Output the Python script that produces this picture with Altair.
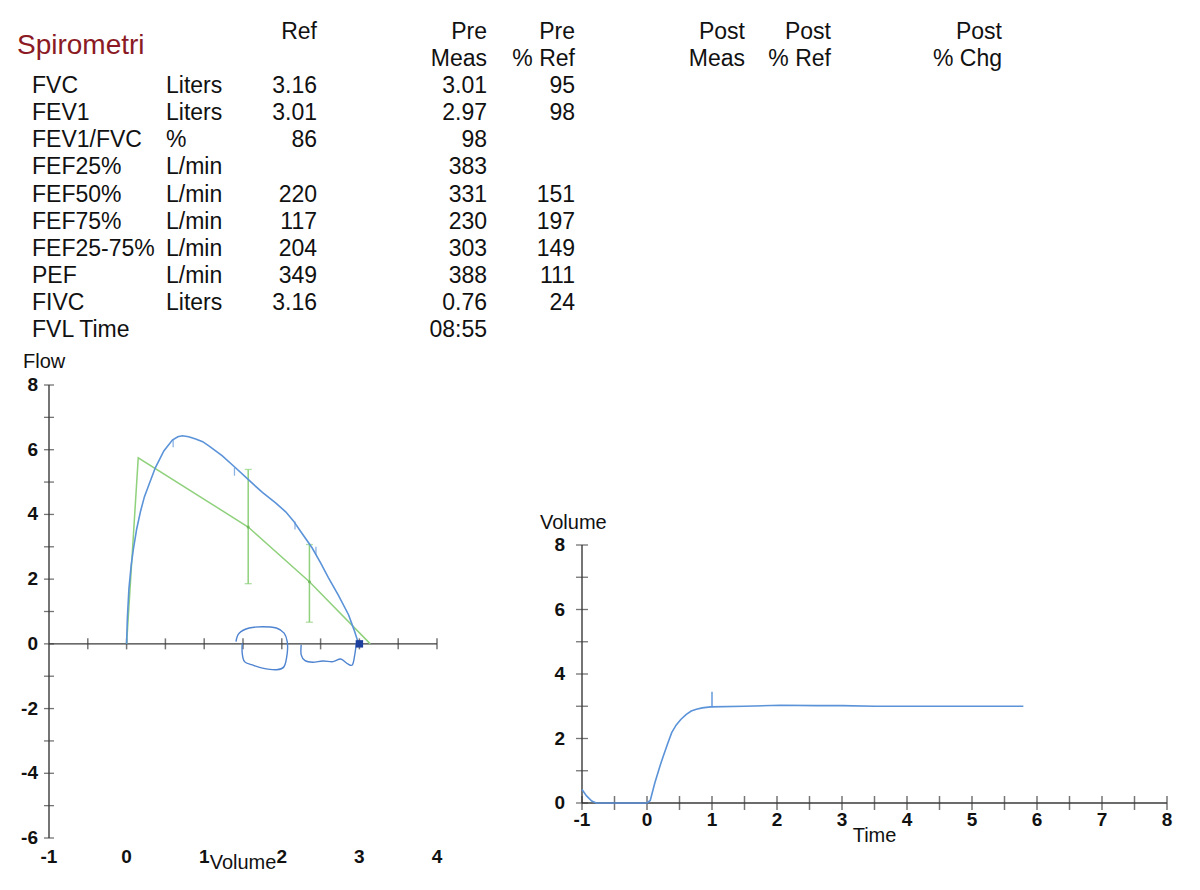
import altair as alt
import pandas as pd

FONT = "Liberation Sans"
INK = "#111111"
BLUE = "#5b93d9"
GREEN = "#8fd17c"
PEN = "#4f84d1"
AXIS = "#3a3a3a"
DARKRED = "#8b1a24"

# ---------------- table data ----------------
row_labels = ["FVC", "FEV1", "FEV1/FVC", "FEF25%", "FEF50%", "FEF75%",
              "FEF25-75%", "PEF", "FIVC", "FVL Time"]
units = ["Liters", "Liters", "%", "L/min", "L/min", "L/min", "L/min", "L/min", "Liters", ""]
ref_vals = ["3.16", "3.01", "86", "", "220", "117", "204", "349", "3.16", ""]
pre_meas = ["3.01", "2.97", "98", "383", "331", "230", "303", "388", "0.76", "08:55"]
pre_pct_ref = ["95", "98", "", "", "151", "197", "149", "111", "24", ""]
post_meas = [""] * 10
post_pct_ref = [""] * 10
post_pct_chg = [""] * 10

header_top = ["", "", "Ref", "Pre", "Pre", "Post", "Post", "Post"]
header_bottom = ["", "", "", "Meas", "% Ref", "Meas", "% Ref", "% Chg"]
col_keys = ["label", "unit", "ref", "pre_meas", "pre_pct", "post_meas", "post_pct", "post_chg"]
col_body = [row_labels, units, ref_vals, pre_meas, pre_pct_ref, post_meas, post_pct_ref, post_pct_chg]

# ---------------- flow-volume data ----------------
flow_vol = [0.00, 0.01, 0.03, 0.06, 0.09, 0.13, 0.18, 0.23, 0.29, 0.37, 0.48, 0.59, 0.66,
            0.72, 0.80, 0.89, 0.98, 1.06, 1.23, 1.40, 1.58, 1.75, 1.92, 2.05, 2.15, 2.25,
            2.39, 2.50, 2.60, 2.73, 2.86, 2.93, 2.97, 2.99]
flow_val = [0.00, 0.80, 1.70, 2.45, 2.97, 3.55, 4.10, 4.55, 4.93, 5.44, 5.96, 6.30, 6.40,
            6.43, 6.40, 6.33, 6.25, 6.12, 5.82, 5.45, 5.05, 4.68, 4.36, 4.08, 3.80, 3.45,
            2.97, 2.50, 2.05, 1.50, 0.90, 0.44, 0.15, 0.00]
mark_vol = [0.60, 1.39, 2.17, 2.44]
mark_flow = [6.20, 5.32, 3.66, 2.88]

pred_vol = [0.00, 0.15, 1.567, 2.356, 3.14]
pred_flow = [0.00, 5.75, 3.61, 1.92, 0.00]
err_vol = [1.567, 2.356]
err_lo = [1.86, 0.67]
err_hi = [5.39, 3.07]

pen1_vol = [1.41, 1.45, 1.58, 1.75, 1.93, 2.03, 2.07, 2.07, 2.03, 1.93, 1.75, 1.62, 1.52, 1.49, 1.49]
pen1_flow = [0.07, 0.33, 0.49, 0.53, 0.49, 0.33, 0.07, -0.29, -0.70, -0.80, -0.75, -0.65, -0.55, -0.29, 0.02]
pen2_vol = [2.25, 2.25, 2.30, 2.40, 2.53, 2.66, 2.76, 2.85, 2.91, 2.94, 2.96]
pen2_flow = [-0.03, -0.34, -0.52, -0.57, -0.53, -0.55, -0.47, -0.62, -0.65, -0.34, 0.02]
end_vol = [3.0]
end_flow = [0.0]

flow_x_labels = [-1, 0, 1, 2, 3, 4]
flow_y_labels = [-6, -4, -2, 0, 2, 4, 6, 8]
flow_zero_ticks = [-0.5, 0, 0.5, 1, 1.5, 2, 2.5, 3, 3.5, 4]
flow_y_ticks = [-6, -5, -4, -3, -2, -1, 0, 1, 2, 3, 4, 5, 6, 7, 8]

# ---------------- volume-time data ----------------
vt_time = [-1.0, -0.93, -0.85, -0.78, -0.5, -0.25, 0.0, 0.05, 0.12, 0.20, 0.25, 0.32, 0.38,
           0.45, 0.52, 0.60, 0.68, 0.76, 0.85, 0.98, 1.5, 2.05, 2.6, 3.0, 3.5, 4.06, 4.5,
           5.0, 5.4, 5.79]
vt_vol = [0.42, 0.22, 0.06, 0.0, 0.0, 0.0, 0.0, 0.08, 0.62, 1.15, 1.45, 1.85, 2.18,
          2.42, 2.59, 2.74, 2.85, 2.91, 2.95, 2.98, 3.0, 3.03, 3.02, 3.02, 3.0, 3.0, 3.0,
          3.0, 3.0, 3.0]
vt_mark_time = [1.0]
vt_mark_lo = [2.97]
vt_mark_hi = [3.45]

vt_x_labels = [-1, 0, 1, 2, 3, 4, 5, 6, 7, 8]
vt_y_labels = [0, 2, 4, 6, 8]
vt_x_ticks = [-1, -0.5, 0, 0.5, 1, 1.5, 2, 2.5, 3, 3.5, 4, 4.5, 5, 5.5, 6, 6.5, 7, 7.5, 8]
vt_y_ticks = [0, 1, 2, 3, 4, 5, 6, 7, 8]

# ---------------- layout ----------------
W, H = 1184, 874

fx = alt.Scale(domain=[-1, 4], range=[41, 429], nice=False, zero=False)
fy = alt.Scale(domain=[-6, 8], range=[830, 377], nice=False, zero=False)
tx = alt.Scale(domain=[-1, 8], range=[574, 1159], nice=False, zero=False)
ty = alt.Scale(domain=[0, 8], range=[795, 537], nice=False, zero=False)

TICKLBL = dict(font=FONT, fontSize=19, fontWeight="bold", color=INK)
TITLE = dict(font=FONT, fontSize=20, color=INK)

# ---------------- table chart ----------------
row_keys = ["h1", "h2"] + row_labels
records = []
for key, top, bot, body in zip(col_keys, header_top, header_bottom, col_body):
    for rk, t in zip(row_keys, [top, bot] + body):
        if t:
            records.append({"row": rk, "col": key, "txt": t})
table_df = pd.DataFrame(records)

col_style = {
    "label": (24, "left"), "unit": (158, "left"), "ref": (309, "right"),
    "pre_meas": (479, "right"), "pre_pct": (567, "right"), "post_meas": (737, "right"),
    "post_pct": (823, "right"), "post_chg": (994, "right"),
}
row_scale = alt.Scale(type="point", domain=row_keys, range=[24, 322], padding=0)
table_layers = []
for key, (px, al) in col_style.items():
    table_layers.append(
        alt.Chart(table_df).transform_filter(alt.datum.col == key)
        .mark_text(align=al, baseline="middle", font=FONT, fontSize=23, color=INK)
        .encode(x=alt.value(px), y=alt.Y("row:N", scale=row_scale, axis=None), text="txt:N")
    )
title_layer = alt.Chart(pd.DataFrame({"t": ["Spirometri"]})).mark_text(
    align="left", baseline="middle", font=FONT, fontSize=28, color=DARKRED
).encode(x=alt.value(9), y=alt.value(38), text="t:N")
table = alt.layer(*table_layers, title_layer)

# ---------------- flow-volume chart ----------------
xq = lambda f: alt.X(f, scale=fx, axis=None)
yq = lambda f: alt.Y(f, scale=fy, axis=None)

fv_df = pd.DataFrame({"vol": flow_vol, "flow": flow_val, "i": range(len(flow_vol))})
flow_main = alt.Chart(fv_df).mark_line(color=BLUE, strokeWidth=1.6).encode(
    x=xq("vol:Q"), y=yq("flow:Q"), order="i:Q")

f_yaxis = alt.Chart(pd.DataFrame({"x": [-1], "a": [-6], "b": [8]})).mark_rule(
    color=AXIS, strokeWidth=1.4).encode(x=xq("x:Q"), y=yq("a:Q"), y2="b:Q")
zero_rule = alt.Chart(pd.DataFrame({"a": [-1], "b": [4], "y": [0]})).mark_rule(
    color=AXIS, strokeWidth=1.4).encode(x=xq("a:Q"), x2="b:Q", y=yq("y:Q"))
zero_ticks = alt.Chart(pd.DataFrame({"x": flow_zero_ticks, "y": [0] * len(flow_zero_ticks)})).mark_tick(
    orient="vertical", size=11, thickness=1.5, color=AXIS).encode(x=xq("x:Q"), y=yq("y:Q"))
fy_ticks = alt.Chart(pd.DataFrame({"x": [-1] * len(flow_y_ticks), "y": flow_y_ticks})).mark_tick(
    orient="horizontal", size=10, thickness=1.3, color=AXIS).encode(x=xq("x:Q"), y=yq("y:Q"))
fy_lbl = alt.Chart(pd.DataFrame({"x": [-1] * len(flow_y_labels), "y": flow_y_labels,
                                 "t": [str(v) for v in flow_y_labels]})).mark_text(
    align="right", baseline="middle", dx=-11, **TICKLBL).encode(x=xq("x:Q"), y=yq("y:Q"), text="t:N")
fx_lbl = alt.Chart(pd.DataFrame({"x": flow_x_labels, "y": [-6] * len(flow_x_labels),
                                 "t": [str(v) for v in flow_x_labels]})).mark_text(
    align="center", baseline="middle", dy=19, **TICKLBL).encode(x=xq("x:Q"), y=yq("y:Q"), text="t:N")
flow_title = alt.Chart(pd.DataFrame({"x": [-1], "y": [8], "t": ["Flow"]})).mark_text(
    align="left", baseline="middle", dx=-26, dy=-23, **TITLE).encode(x=xq("x:Q"), y=yq("y:Q"), text="t:N")
vol_title = alt.Chart(pd.DataFrame({"x": [1.5], "y": [-6], "t": ["Volume"]})).mark_text(
    align="center", baseline="middle", dy=25, **TITLE).encode(x=xq("x:Q"), y=yq("y:Q"), text="t:N")

pred_df = pd.DataFrame({"vol": pred_vol, "flow": pred_flow, "i": range(len(pred_vol))})
pred_line = alt.Chart(pred_df).mark_line(color=GREEN, strokeWidth=1.5).encode(
    x=xq("vol:Q"), y=yq("flow:Q"), order="i:Q")
err_df = pd.DataFrame({"vol": err_vol, "lo": err_lo, "hi": err_hi})
err_rule = alt.Chart(err_df).mark_rule(color=GREEN, strokeWidth=1.5).encode(
    x=xq("vol:Q"), y=yq("lo:Q"), y2="hi:Q")
err_cap_lo = alt.Chart(err_df).mark_tick(orient="horizontal", size=7, thickness=1.3, color=GREEN).encode(
    x=xq("vol:Q"), y=yq("lo:Q"))
err_cap_hi = alt.Chart(err_df).mark_tick(orient="horizontal", size=7, thickness=1.3, color=GREEN).encode(
    x=xq("vol:Q"), y=yq("hi:Q"))
pred_pts = alt.Chart(pred_df.iloc[2:4]).mark_point(filled=True, size=10, color="#5fae4c").encode(
    x=xq("vol:Q"), y=yq("flow:Q"))

curve_marks = alt.Chart(pd.DataFrame({"vol": mark_vol, "flow": mark_flow})).mark_tick(
    orient="vertical", size=8, thickness=1.3, color=BLUE).encode(x=xq("vol:Q"), y=yq("flow:Q"))

pen_df = pd.concat([
    pd.DataFrame({"vol": pen1_vol, "flow": pen1_flow, "i": range(len(pen1_vol)), "g": "loop"}),
    pd.DataFrame({"vol": pen2_vol, "flow": pen2_flow, "i": range(len(pen2_vol)), "g": "hook"}),
])
pen = alt.Chart(pen_df).mark_line(color=PEN, strokeWidth=1.4, interpolate="cardinal").encode(
    x=xq("vol:Q"), y=yq("flow:Q"), detail="g:N", order="i:Q")
end_sq = alt.Chart(pd.DataFrame({"vol": end_vol, "flow": end_flow})).mark_square(
    size=55, color="#1d3f9e", opacity=1).encode(x=xq("vol:Q"), y=yq("flow:Q"))

flow_chart = alt.layer(f_yaxis, zero_rule, zero_ticks, fy_ticks, fy_lbl, fx_lbl, flow_title,
                       vol_title, pred_line, err_rule, err_cap_lo, err_cap_hi, pred_pts,
                       flow_main, curve_marks, pen, end_sq)

# ---------------- volume-time chart ----------------
txq = lambda f: alt.X(f, scale=tx, axis=None)
tyq = lambda f: alt.Y(f, scale=ty, axis=None)

vt_df = pd.DataFrame({"t": vt_time, "v": vt_vol, "i": range(len(vt_time))})
vt_main = alt.Chart(vt_df).mark_line(color=BLUE, strokeWidth=1.6).encode(
    x=txq("t:Q"), y=tyq("v:Q"), order="i:Q")
v_xaxis = alt.Chart(pd.DataFrame({"a": [-1], "b": [8], "y": [0]})).mark_rule(
    color=AXIS, strokeWidth=1.4).encode(x=txq("a:Q"), x2="b:Q", y=tyq("y:Q"))
v_yaxis = alt.Chart(pd.DataFrame({"x": [-1], "a": [0], "b": [8]})).mark_rule(
    color=AXIS, strokeWidth=1.4).encode(x=txq("x:Q"), y=tyq("a:Q"), y2="b:Q")
vx_ticks = alt.Chart(pd.DataFrame({"x": vt_x_ticks, "y": [0] * len(vt_x_ticks)})).mark_tick(
    orient="vertical", size=14, thickness=1.5, color=AXIS).encode(x=txq("x:Q"), y=tyq("y:Q"))
vy_ticks = alt.Chart(pd.DataFrame({"x": [-1] * len(vt_y_ticks), "y": vt_y_ticks})).mark_tick(
    orient="horizontal", size=12, thickness=1.3, color=AXIS).encode(x=txq("x:Q"), y=tyq("y:Q"))
vx_lbl = alt.Chart(pd.DataFrame({"x": vt_x_labels, "y": [0] * len(vt_x_labels),
                                 "t": [str(v) for v in vt_x_labels]})).mark_text(
    align="center", baseline="middle", dy=17, **TICKLBL).encode(x=txq("x:Q"), y=tyq("y:Q"), text="t:N")
vy_lbl = alt.Chart(pd.DataFrame({"x": [-1] * len(vt_y_labels), "y": vt_y_labels,
                                 "t": [str(v) for v in vt_y_labels]})).mark_text(
    align="right", baseline="middle", dx=-17, **TICKLBL).encode(x=txq("x:Q"), y=tyq("y:Q"), text="t:N")
v_title = alt.Chart(pd.DataFrame({"x": [-1], "y": [8], "t": ["Volume"]})).mark_text(
    align="left", baseline="middle", dx=-42, dy=-22, **TITLE).encode(x=txq("x:Q"), y=tyq("y:Q"), text="t:N")
t_title = alt.Chart(pd.DataFrame({"x": [3.5], "y": [0], "t": ["Time"]})).mark_text(
    align="center", baseline="middle", dy=33, **TITLE).encode(x=txq("x:Q"), y=tyq("y:Q"), text="t:N")
vt_mark = alt.Chart(pd.DataFrame({"t": vt_mark_time, "lo": vt_mark_lo, "hi": vt_mark_hi})).mark_rule(
    color=BLUE, strokeWidth=1.4).encode(x=txq("t:Q"), y=tyq("lo:Q"), y2="hi:Q")

vt_chart = alt.layer(v_xaxis, v_yaxis, vx_ticks, vy_ticks, vx_lbl, vy_lbl, v_title, t_title,
                     vt_main, vt_mark)

chart = (
    alt.layer(table, flow_chart, vt_chart)
    .resolve_scale(x="independent", y="independent")
    .properties(width=W, height=H, autosize="none", padding=0, background="white")
    .configure_view(stroke=None)
)

chart.save("out.html", embed_options={"renderer": "svg", "actions": False})
